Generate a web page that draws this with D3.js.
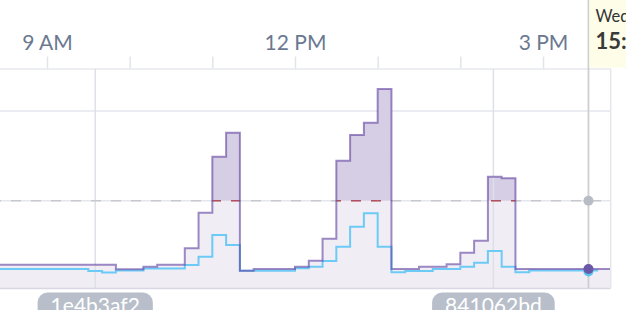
<!DOCTYPE html>
<html><head><meta charset="utf-8">
<script src="https://cdn.jsdelivr.net/npm/d3@7"></script>
<style>
html,body{margin:0;padding:0;background:#fff;overflow:hidden;}
svg{display:block;font-family:Lato,"Open Sans",sans-serif;}
</style></head>
<body><svg id="c" width="626" height="310"></svg>
<script>
// ---- data (10-minute buckets, first bucket starts 08:20) ----
const bucketStartOffsets = d3.range(-4, 41); // bucket index relative to 09:00, 10 min each
const seriesTotal = [28.6,28.6,28.6,28.6,28.6,28.6,28.6,28.6,28.6, 23.5,23.5, 26.4, 28.6,28.6,
  46.9, 86.6, 149.1, 175.8, 22.0, 23.9,23.9,23.9, 26.4, 33.1, 57.6, 144.6, 173.2, 187.0, 224.5,
  23.9,23.9, 26.4,26.4, 29.1, 42.0, 55.4, 126.8, 125.0, 23.9,23.9,23.9,23.9,23.9,23.9,23.9];
const seriesPart = [23.9,23.9,23.9,23.9,23.9,23.9,23.9, 21.6, 20.0, 22.2,22.2, 24.4,24.4,24.4,
  28.3, 37.6, 61.8, 50.6, 22.0,22.0,22.0,22.0, 24.6, 26.4, 32.8, 48.7, 71.0, 86.0, 48.7,
  20.3, 21.6,21.6, 23.9,23.9, 26.4, 30.9, 43.9, 26.4, 20.2, 22.2,22.2,22.2,22.2,22.2];
const threshold = 100;
const yGrid = [100, 200];
const deploys = [{time:"09:35", label:"1e4b3af2"}, {time:"14:24", label:"841062bd"}];
const cursorTime = "15:33";
const tooltipLines = ["Wed", "15:33"];

// ---- helpers ----
const day = new Date(2023, 10, 8, 0, 0);
const at = s => { const [h,m] = s.split(":").map(Number); return new Date(day.getTime() + (h*60+m)*60000); };
const nine = at("09:00");
const bucketTime = k => new Date(nine.getTime() + k*10*60000);

const W = 626, H = 310;
const plot = {left:-40, right:610.7, top:69, bottom:288.5};
const x = d3.scaleTime().domain([at("08:00"), at("16:00")]).range([-35.67, 625.67]);
const y = d3.scaleLinear().domain([0, 200]).range([290.4, 111]);

const svg = d3.select("#c");
const defs = svg.append("defs");
defs.append("clipPath").attr("id","plotClip").append("rect")
  .attr("x", plot.left).attr("y", plot.top).attr("width", plot.right-plot.left).attr("height", plot.bottom-plot.top);
defs.append("clipPath").attr("id","aboveClip").append("rect")
  .attr("x", plot.left).attr("y", plot.top).attr("width", plot.right-plot.left).attr("height", y(threshold)-plot.top);

const totalPts = seriesTotal.map((v,i)=>({t:bucketTime(bucketStartOffsets[i]), v}));
totalPts.push({t:bucketTime(bucketStartOffsets[seriesTotal.length-1]+1), v:seriesTotal[seriesTotal.length-1]});
const partPts = seriesPart.map((v,i)=>({t:bucketTime(bucketStartOffsets[i]), v}));
partPts.push({t:bucketTime(bucketStartOffsets[seriesPart.length-1]+1), v:seriesPart[seriesPart.length-1]});

// grid
const g = svg.append("g");
g.selectAll("line.hg").data(yGrid).join("line")
  .attr("x1",0).attr("x2",plot.right).attr("y1",d=>y(d)).attr("y2",d=>y(d))
  .attr("stroke","#e3e6ec").attr("stroke-width",1.5);
g.append("line").attr("x1",0).attr("x2",plot.right).attr("y1",plot.top).attr("y2",plot.top)
  .attr("stroke","#e6e8ed").attr("stroke-width",1.5);

// fills
const area = d3.area().curve(d3.curveStepAfter).x(d=>x(d.t)).y0(plot.bottom).y1(d=>y(d.v));
const pg = svg.append("g").attr("clip-path","url(#plotClip)");
pg.append("path").datum(totalPts).attr("d",area).attr("fill","#f0edf5");
pg.append("g").attr("clip-path","url(#aboveClip)").append("path").datum(totalPts).attr("d",area).attr("fill","#d6cee4");

// vertical deploy grid lines
pg.selectAll("line.dep").data(deploys).join("line")
  .attr("x1",d=>x(at(d.time))).attr("x2",d=>x(at(d.time))).attr("y1",plot.top).attr("y2",plot.bottom)
  .attr("stroke","#dde0e6").attr("stroke-width",1.5);

// threshold dashed line
const thY = y(threshold);
pg.append("line").attr("x1",-9).attr("x2",plot.right).attr("y1",thY).attr("y2",thY)
  .attr("stroke","#c9c9cb").attr("stroke-width",1.5).attr("stroke-dasharray","10,10");
// red part where series above threshold
const aboveG = pg.append("g");
totalPts.slice(0,-1).forEach((d,i)=>{
  if (d.v > threshold) {
    const id = "ab"+i;
    defs.append("clipPath").attr("id",id).append("rect")
      .attr("x", x(d.t)).attr("y", thY-3).attr("width", x(totalPts[i+1].t)-x(d.t)).attr("height",6);
    aboveG.append("line").attr("clip-path",`url(#${id})`)
      .attr("x1",-9).attr("x2",plot.right).attr("y1",thY).attr("y2",thY)
      .attr("stroke","#b4505e").attr("stroke-width",1.5).attr("stroke-dasharray","10,10");
  }
});

// bottom baseline
svg.append("line").attr("x1",0).attr("x2",plot.right).attr("y1",plot.bottom).attr("y2",plot.bottom)
  .attr("stroke","#dbd6e4").attr("stroke-width",1.5);
// right border
svg.append("line").attr("x1",plot.right).attr("x2",plot.right).attr("y1",plot.top).attr("y2",plot.bottom)
  .attr("stroke","#e6e7ec").attr("stroke-width",1.5);

// lines
const line = d3.line().curve(d3.curveStepAfter).x(d=>x(d.t)).y(d=>y(d.v));
pg.append("path").datum(partPts).attr("d",line).attr("fill","none")
  .attr("stroke","#6ccaf6").attr("stroke-width",2);
pg.append("path").datum(totalPts).attr("d",line).attr("fill","none")
  .attr("stroke","#5e3d9e").attr("stroke-opacity",0.6).attr("stroke-width",2);

// cursor
const cx = x(at(cursorTime));
svg.append("line").attr("x1",cx).attr("x2",cx).attr("y1",0).attr("y2",plot.bottom)
  .attr("stroke","#cfcfd1").attr("stroke-width",1.8);
const valAt = (pts,t)=>{ let v=pts[0].v; pts.forEach(p=>{ if(p.t<=t) v=p.v; }); return v; };
svg.append("circle").attr("cx",cx).attr("cy",y(threshold)).attr("r",5).attr("fill","#b8bcc4");
svg.append("circle").attr("cx",cx).attr("cy",y(valAt(partPts,at(cursorTime)))+1).attr("r",5).attr("fill","#5cc4f2");
svg.append("circle").attr("cx",cx).attr("cy",y(valAt(totalPts,at(cursorTime)))).attr("r",5).attr("fill","#6a58a6");

// top axis
const axis = d3.axisTop(x).ticks(d3.timeHour.every(1)).tickSize(12).tickPadding(6.5)
  .tickFormat(d => d.getHours()%3===0 ? d3.timeFormat("%-I %p")(d) : "");
const ag = svg.append("g").attr("transform",`translate(0,${plot.top-0.5})`).call(axis);
ag.select(".domain").remove();
ag.selectAll(".tick line").attr("stroke","#e1e4e9").attr("stroke-width",1.5);
ag.selectAll(".tick text").attr("fill","#6a7990").attr("font-size",21).attr("font-family","Lato, 'Open Sans', sans-serif");

// tooltip
const tt = svg.append("g");
tt.append("rect").attr("x",cx+1).attr("y",0).attr("width",W-cx).attr("height",67.5).attr("fill","#fdfde8");
tt.append("text").attr("x",cx+7).attr("y",22).attr("font-size",16.5).attr("fill","#333").text(tooltipLines[0]);
tt.append("text").attr("x",cx+7).attr("y",48.5).attr("font-size",22).attr("font-weight","bold").attr("fill","#3a3a3a").text(tooltipLines[1]);

// deploy pills
deploys.forEach(d=>{
  const px = x(at(d.time));
  const pgp = svg.append("g");
  const r = pgp.append("rect").attr("y",292.5).attr("height",30).attr("rx",10).attr("fill","#b8bfca");
  const t = pgp.append("text").attr("x",px).attr("y",313).attr("text-anchor","middle")
    .attr("font-size",21).attr("fill","#fff").text(d.label);
  const w = t.node().getComputedTextLength() + 26;
  r.attr("x", px - w/2).attr("width", w);
});
</script></body></html>
